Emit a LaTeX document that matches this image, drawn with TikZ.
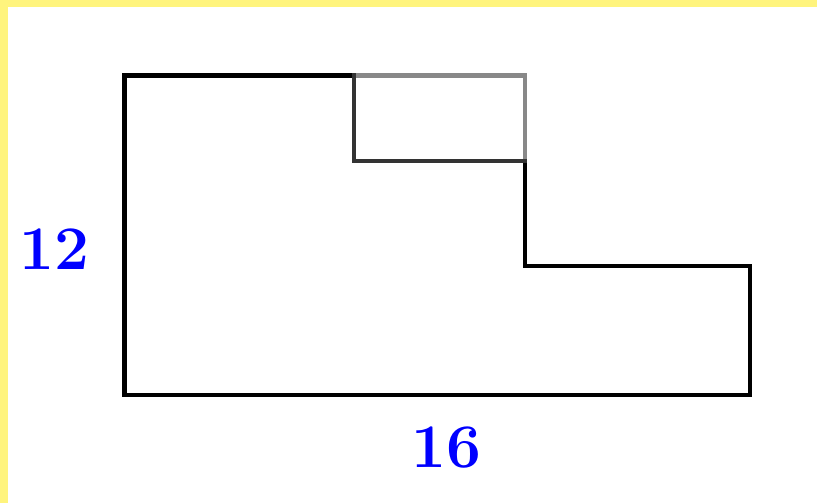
\documentclass[tikz,border=0pt]{standalone}
\definecolor{bandyellow}{RGB}{255,244,125}
\definecolor{notchgray}{RGB}{136,136,136}
\definecolor{notchdark}{RGB}{51,51,51}
\begin{document}
\begin{tikzpicture}[x=1pt,y=-1pt,
  outline/.style={line width=4.8pt,line cap=rect,line join=miter},
  dimlabel/.style={text=blue,font=\fontsize{62}{62}\selectfont\bfseries,inner sep=0pt}]
\useasboundingbox (0,0) rectangle (817,503);
\fill[bandyellow] (0,0) rectangle (817,7.5);
\fill[bandyellow] (0,0) rectangle (7.5,503);
% main outline
\draw[outline,black] (354,75.5) -- (124.5,75.5) -- (124.5,395) -- (750,395) -- (750,266) -- (525,266) -- (525,161);
% notch (removed rectangle)
\draw[outline,notchgray] (354,75.5) -- (525,75.5) -- (525,161);
\draw[outline,notchdark] (354,75.5) -- (354,161) -- (525,161);
\node[dimlabel] (h) at (54,249) {12};
\node[dimlabel] (w) at (446,448) {16};
\end{tikzpicture}
\end{document}
